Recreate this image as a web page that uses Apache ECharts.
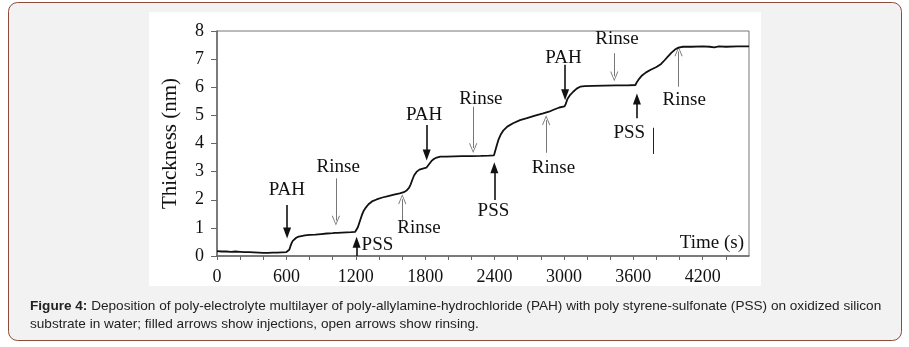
<!DOCTYPE html>
<html><head><meta charset="utf-8">
<script src="https://cdn.jsdelivr.net/npm/echarts@6/dist/echarts.min.js"></script>
<style>html,body{margin:0;padding:0;background:#fff}#c{width:909px;height:347px}</style>
</head><body><div id="c"></div>
<script>
// ---- data ----
const times = [0,40,80,120,160,200,240,280,320,360,400,440,480,520,560,600,615,625,635,645,655,668,685,705,730,760,800,850,900,950,1000,1020,1030,1040,1080,1120,1160,1195,1208,1218,1228,1240,1255,1270,1290,1310,1340,1380,1430,1480,1530,1580,1615,1640,1660,1675,1690,1705,1725,1750,1780,1810,1825,1840,1855,1875,1900,1930,1980,2050,2120,2200,2280,2350,2395,2405,2420,2435,2455,2477,2510,2560,2620,2680,2750,2820,2870,2910,2960,3005,3015,3030,3050,3080,3110,3140,3180,3250,3350,3450,3550,3618,3630,3650,3675,3710,3750,3800,3840,3870,3900,3930,3960,3990,4030,4100,4200,4260,4300,4340,4400,4500,4600];
const thickness = [0.17,0.16,0.16,0.15,0.16,0.15,0.14,0.14,0.13,0.12,0.11,0.11,0.12,0.12,0.13,0.14,0.15,0.22,0.35,0.46,0.54,0.6,0.65,0.69,0.71,0.73,0.75,0.76,0.78,0.8,0.81,0.82,0.86,0.82,0.83,0.84,0.85,0.86,0.9,1.02,1.15,1.3,1.48,1.62,1.74,1.84,1.94,2.01,2.08,2.13,2.18,2.23,2.27,2.33,2.42,2.55,2.72,2.87,2.99,3.07,3.11,3.14,3.19,3.3,3.38,3.45,3.5,3.53,3.53,3.54,3.55,3.55,3.56,3.57,3.58,3.65,3.95,4.15,4.33,4.47,4.6,4.72,4.83,4.9,4.99,5.07,5.13,5.2,5.28,5.32,5.4,5.58,5.71,5.84,5.95,6.02,6.04,6.05,6.06,6.07,6.07,6.08,6.18,6.3,6.42,6.53,6.62,6.72,6.83,6.96,7.1,7.23,7.34,7.41,7.44,7.44,7.45,7.44,7.42,7.45,7.44,7.45,7.45];

// annotations (filled arrows = injections, open arrows = rinsing)
const arrowNames  = ['PAH','Rinse','PSS','Rinse','PAH','Rinse','PSS','Rinse','PAH','Rinse','PSS','Rinse'];
const arrowTimes  = [606,1028,1207,1602,1813,2215,2398,2846,3010,3435,3631,3991];
const arrowTails  = [1.81,2.76,0,1.22,4.66,5.31,1.99,3.67,6.8,7.21,4.9,6.02];
const arrowHeads  = [0.82,1.26,0.49,2.02,3.59,3.84,3.14,4.83,5.73,6.39,5.58,7.27];
const labelTimes  = [604,1048,1387,1746,1790,2282,2390,2909,2996,3458,3565,4040];
const labelValues = [2.35,3.18,0.39,0.98,5.02,5.59,1.6,3.12,7.03,7.72,4.37,5.55];
const strayMark   = [3775, 4.56, 3.63];

const yTicks = [0,1,2,3,4,5,6,7,8];
const xLabelStep = 600;

const captionBold = 'Figure 4:';
const captionLine1 = ' Deposition of poly-electrolyte multilayer of poly-allylamine-hydrochloride (PAH) with poly styrene-sulfonate (PSS) on oxidized silicon';
const captionLine2 = 'substrate in water; filled arrows show injections, open arrows show rinsing.';

// ---- chart ----
const serif = 'Liberation Serif';
const openHead = 'path://M5,0 L10,11 L9,11.6 L5,2.4 L1,11.6 L0,11 Z';
const lineData = times.map((t, i) => [t, thickness[i]]);

const markLines = arrowNames.map((n, i) => {
  const filled = n !== 'Rinse';
  return [
    {coord: [arrowTimes[i], arrowTails[i]], symbol: 'none',
     lineStyle: {color: filled ? '#111' : '#777', width: filled ? 1.6 : 1, type: 'solid'}},
    {coord: [arrowTimes[i], arrowHeads[i]], symbol: filled ? 'triangle' : openHead,
     symbolSize: filled ? [8, 11] : [8, 10]}
  ];
});
markLines.push([
  {coord: [strayMark[0], strayMark[1]], symbol: 'none', lineStyle: {color: '#222', width: 1, type: 'solid'}},
  {coord: [strayMark[0], strayMark[2]], symbol: 'none'}
]);

const markPoints = arrowNames.map((n, i) => ({name: n, coord: [labelTimes[i], labelValues[i]]}));

const chart = echarts.init(document.getElementById('c'), null, {renderer: 'canvas'});
chart.setOption({
  animation: false,
  backgroundColor: '#fff',
  graphic: [
    {type: 'rect', z: -10, shape: {x: 8.5, y: 2.5, width: 893, height: 338, r: 9},
     style: {fill: '#f2f2f2', stroke: '#8e4a3a', lineWidth: 1}},
    {type: 'rect', z: -9, shape: {x: 149, y: 12, width: 612, height: 274},
     style: {fill: '#fff'}},
    {type: 'text', z: 10, x: 744, y: 243,
     style: {text: 'Time (s)', font: '19px "Liberation Serif"', fill: '#111', align: 'right', verticalAlign: 'middle'}},
    {type: 'text', z: 10, x: 30, y: 297,
     style: {text: '{b|' + captionBold + '}' + captionLine1 + '\n' + captionLine2,
       font: '13.6px "Liberation Sans"', fill: '#222', verticalAlign: 'top', lineHeight: 18,
       rich: {b: {font: 'bold 13.6px "Liberation Sans"', fill: '#222', lineHeight: 18}}}}
  ],
  grid: {left: 217, right: 160, top: 31, bottom: 91, show: true, borderColor: '#777', borderWidth: 1, backgroundColor: 'transparent'},
  xAxis: {
    type: 'value', min: 0, max: 4600, interval: 200,
    axisLine: {show: true, lineStyle: {color: '#666', width: 1.5}},
    axisTick: {show: true, length: 4, lineStyle: {color: '#666'}},
    axisLabel: {formatter: v => (v % xLabelStep === 0 ? String(v) : ''), fontFamily: serif, fontSize: 18, color: '#111', margin: 12,
      showMaxLabel: false},
    splitLine: {show: false}
  },
  yAxis: {
    type: 'value', min: yTicks[0], max: yTicks[yTicks.length - 1], interval: 1,
    name: 'Thickness (nm)', nameLocation: 'middle', nameGap: 36,
    nameTextStyle: {fontFamily: serif, fontSize: 21, color: '#111'},
    axisLine: {show: true, lineStyle: {color: '#666', width: 1.5}},
    axisTick: {show: true, length: 6, lineStyle: {color: '#666'}},
    axisLabel: {fontFamily: serif, fontSize: 18, color: '#111', margin: 13},
    splitLine: {show: false}
  },
  series: [{
    type: 'line', data: lineData, showSymbol: false, symbol: 'none',
    lineStyle: {color: '#111', width: 1.8}, z: 5,
    markLine: {silent: true, animation: false, label: {show: false}, symbol: ['none', 'none'],
      lineStyle: {type: 'solid'}, emphasis: {disabled: true}, data: markLines},
    markPoint: {silent: true, animation: false, symbol: 'rect', symbolSize: 0, itemStyle: {color: 'transparent'},
      label: {show: true, position: 'inside', formatter: '{b}', fontFamily: serif, fontSize: 19, color: '#111'},
      data: markPoints}
  }]
});
</script></body></html>
